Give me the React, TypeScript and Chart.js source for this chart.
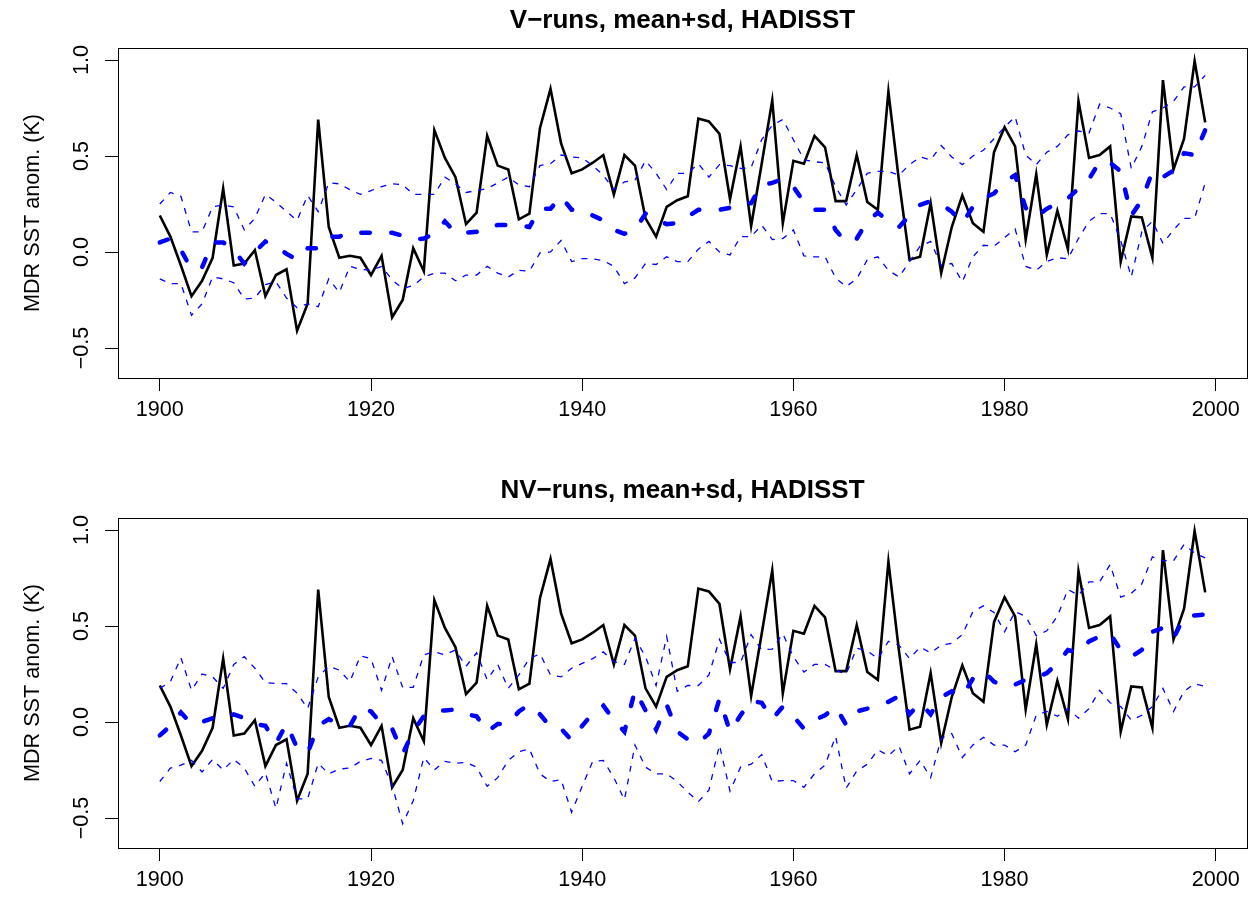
import React, { useEffect, useRef } from "react";
import { Chart, registerables } from "chart.js";

Chart.register(...registerables);

// ---------- data ----------
const years: number[] = Array.from({ length: 100 }, (_, i) => 1900 + i);

const obs: number[] = [
  0.19, 0.08, -0.07, -0.23, -0.15, -0.03, 0.33, -0.07, -0.06, 0.01,
  -0.23, -0.12, -0.09, -0.41, -0.27, 0.69, 0.13, -0.03, -0.02, -0.03,
  -0.12, -0.02, -0.34, -0.25, 0.02, -0.10, 0.635, 0.49, 0.39, 0.145,
  0.205, 0.605, 0.45, 0.43, 0.17, 0.20, 0.645, 0.85, 0.565, 0.41,
  0.43, 0.465, 0.505, 0.30, 0.505, 0.45, 0.175, 0.08, 0.235, 0.27,
  0.29, 0.695, 0.68, 0.615, 0.275, 0.55, 0.135, 0.46, 0.79, 0.15,
  0.475, 0.46, 0.605, 0.545, 0.265, 0.265, 0.505, 0.26, 0.22, 0.835,
  0.37, -0.04, -0.025, 0.255, -0.11, 0.13, 0.295, 0.15, 0.105, 0.52,
  0.65, 0.55, 0.065, 0.405, -0.015, 0.215, 0.015, 0.785, 0.49, 0.505,
  0.55, -0.05, 0.185, 0.18, -0.03, 0.895, 0.43, 0.59, 0.995, 0.675,
];

const vMean: number[] = [
  0.05, 0.07, 0.01, -0.09, -0.08, 0.05, 0.05, 0.01, -0.06, 0.0,
  0.055, 0.03, -0.01, -0.04, 0.02, 0.02, 0.08, 0.08, 0.105, 0.10,
  0.10, 0.10, 0.10, 0.085, 0.065, 0.07, 0.095, 0.16, 0.10, 0.10,
  0.105, 0.135, 0.14, 0.14, 0.14, 0.13, 0.225, 0.225, 0.29, 0.22,
  0.22, 0.19, 0.165, 0.115, 0.095, 0.115, 0.20, 0.17, 0.145, 0.15,
  0.185, 0.22, 0.22, 0.22, 0.23, 0.25, 0.255, 0.35, 0.36, 0.38,
  0.34, 0.26, 0.22, 0.22, 0.115, 0.05, 0.07, 0.16, 0.205, 0.16,
  0.13, 0.19, 0.245, 0.265, 0.25, 0.21, 0.15, 0.235, 0.28, 0.305,
  0.365, 0.40, 0.23, 0.185, 0.225, 0.255, 0.28, 0.33, 0.38, 0.47,
  0.465, 0.42, 0.19, 0.27, 0.42, 0.39, 0.425, 0.515, 0.505, 0.635,
];

const vUpper: number[] = [
  0.25, 0.31, 0.29, 0.105, 0.105, 0.235, 0.245, 0.235, 0.115, 0.175,
  0.30, 0.26, 0.21, 0.165, 0.295, 0.21, 0.36, 0.355, 0.325, 0.30,
  0.32, 0.34, 0.355, 0.35, 0.30, 0.30, 0.30, 0.39, 0.355, 0.31,
  0.32, 0.33, 0.36, 0.39, 0.35, 0.34, 0.45, 0.46, 0.505, 0.495,
  0.49, 0.45, 0.40, 0.325, 0.365, 0.375, 0.475, 0.41, 0.325, 0.41,
  0.41, 0.46, 0.39, 0.455, 0.45, 0.435, 0.44, 0.585, 0.66, 0.69,
  0.585, 0.48, 0.47, 0.465, 0.34, 0.245, 0.325, 0.41, 0.42, 0.42,
  0.40, 0.455, 0.495, 0.48, 0.555, 0.495, 0.455, 0.50, 0.53, 0.59,
  0.65, 0.705, 0.505, 0.455, 0.52, 0.55, 0.61, 0.63, 0.62, 0.77,
  0.75, 0.72, 0.435, 0.55, 0.73, 0.75, 0.785, 0.86, 0.86, 0.92,
];

const vLower: number[] = [
  -0.14, -0.165, -0.165, -0.33, -0.27, -0.13, -0.14, -0.16, -0.245, -0.24,
  -0.17, -0.155, -0.24, -0.29, -0.27, -0.285, -0.14, -0.21, -0.075, -0.09,
  -0.095, -0.075, -0.145, -0.19, -0.175, -0.13, -0.11, -0.11, -0.15, -0.12,
  -0.12, -0.075, -0.11, -0.13, -0.095, -0.10, -0.005, 0.0, 0.06, -0.05,
  -0.035, -0.035, -0.045, -0.075, -0.165, -0.135, -0.06, -0.065, -0.025, -0.05,
  -0.05, 0.015, 0.055, 0.0, -0.015, 0.08, 0.08, 0.14, 0.065, 0.07,
  0.115, -0.02, -0.025, -0.025, -0.135, -0.18, -0.14, -0.04, -0.025, -0.095,
  -0.13, -0.05, 0.03, 0.055, -0.07, -0.06, -0.155, -0.025, 0.035, 0.03,
  0.075, 0.12, -0.075, -0.095, -0.05, -0.03, -0.035, 0.07, 0.16, 0.20,
  0.20, 0.06, -0.13, 0.105, 0.16, 0.045, 0.115, 0.175, 0.175, 0.36,
];

const nvMean: number[] = [
  -0.07, -0.02, 0.05, -0.01, 0.0, 0.02, 0.02, 0.04, 0.02, -0.01,
  -0.02, -0.11, -0.01, -0.135, -0.16, -0.02, 0.015, -0.015, -0.02, 0.075,
  0.055, -0.01, -0.035, -0.165, -0.05, 0.03, 0.06, 0.06, 0.065, 0.04,
  0.03, -0.05, -0.01, -0.01, 0.055, 0.09, 0.04, -0.025, -0.035, -0.095,
  -0.02, 0.045, 0.085, 0.01, -0.05, 0.165, 0.06, -0.04, 0.09, -0.05,
  -0.09, -0.11, -0.06, 0.12, -0.05, 0.035, 0.11, 0.10, 0.015, 0.08,
  0.03, -0.035, 0.01, 0.035, 0.08, -0.015, 0.055, 0.07, 0.09, 0.105,
  0.135, 0.04, 0.10, 0.04, 0.13, 0.16, 0.135, 0.225, 0.265, 0.21,
  0.185, 0.195, 0.22, 0.23, 0.255, 0.305, 0.375, 0.36, 0.42, 0.445,
  0.46, 0.375, 0.34, 0.375, 0.47, 0.49, 0.435, 0.55, 0.555, 0.56,
];

const nvUpper: number[] = [
  0.175, 0.21, 0.335, 0.165, 0.25, 0.235, 0.175, 0.30, 0.34, 0.28,
  0.205, 0.20, 0.20, 0.15, 0.07, 0.235, 0.29, 0.27, 0.21, 0.345,
  0.33, 0.165, 0.34, 0.18, 0.18, 0.35, 0.365, 0.35, 0.375, 0.29,
  0.36, 0.22, 0.30, 0.175, 0.245, 0.33, 0.355, 0.245, 0.235, 0.28,
  0.305, 0.33, 0.365, 0.315, 0.30, 0.435, 0.34, 0.19, 0.445, 0.16,
  0.19, 0.19, 0.245, 0.43, 0.31, 0.31, 0.455, 0.375, 0.38, 0.46,
  0.34, 0.26, 0.30, 0.30, 0.27, 0.25, 0.385, 0.37, 0.33, 0.42,
  0.40, 0.33, 0.39, 0.36, 0.40, 0.41, 0.455, 0.575, 0.605, 0.57,
  0.47, 0.575, 0.55, 0.45, 0.475, 0.55, 0.69, 0.66, 0.73, 0.73,
  0.82, 0.65, 0.67, 0.72, 0.86, 0.84, 0.84, 0.925, 0.88, 0.855,
];

const nvLower: number[] = [
  -0.31, -0.24, -0.225, -0.20, -0.26, -0.195, -0.25, -0.195, -0.24, -0.335,
  -0.265, -0.45, -0.215, -0.40, -0.40, -0.215, -0.27, -0.245, -0.24, -0.205,
  -0.19, -0.20, -0.33, -0.53, -0.41, -0.185, -0.25, -0.205, -0.215, -0.21,
  -0.235, -0.335, -0.29, -0.20, -0.155, -0.14, -0.27, -0.31, -0.30, -0.47,
  -0.335, -0.205, -0.20, -0.29, -0.405, -0.12, -0.235, -0.27, -0.27, -0.31,
  -0.365, -0.415, -0.355, -0.12, -0.36, -0.235, -0.22, -0.17, -0.31, -0.305,
  -0.305, -0.34, -0.27, -0.225, -0.075, -0.345, -0.255, -0.22, -0.145, -0.175,
  -0.125, -0.27, -0.20, -0.29, -0.085, -0.06, -0.185, -0.12, -0.08, -0.12,
  -0.12, -0.155, -0.12, 0.035, 0.055, 0.03, 0.07, 0.02, 0.07, 0.165,
  0.10, 0.08, 0.01, 0.035, 0.08, 0.175, 0.055, 0.16, 0.20, 0.185,
];

const titles: string[] = [
  "V\u2212runs, mean+sd, HADISST",
  "NV\u2212runs, mean+sd, HADISST",
];
const yAxisLabel = "MDR SST anom. (K)";
const xTickStep = 20;
const yTickStep = 0.5;

// ---------- layout constants ----------
const FONT = '"Liberation Sans", Arial, Helvetica, sans-serif';
const W = 1256;
const AREA_TOP = 48;
const AREA_BOTTOM = 378;
const AREA_LEFT = 118;
const AREA_RIGHT = 1247;

const framePlugin = {
  id: "rframe",
  afterDraw(chart: any, _args: any, opts: any) {
    const { ctx, chartArea: a } = chart;
    ctx.save();
    ctx.strokeStyle = "#000";
    ctx.lineWidth = 1;
    ctx.strokeRect(
      Math.round(a.left) + 0.5,
      Math.round(a.top) + 0.5,
      Math.round(a.right - a.left),
      Math.round(a.bottom - a.top)
    );
    ctx.fillStyle = "#000";
    ctx.font = `bold 26px ${FONT}`;
    ctx.textAlign = "center";
    ctx.textBaseline = "alphabetic";
    ctx.fillText(opts.text, (a.left + a.right) / 2, opts.y);
    ctx.restore();
  },
};

const toPts = (vals: number[]) => years.map((yr, i) => ({ x: yr, y: vals[i] }));

function Panel(props: {
  title: string;
  mean: number[];
  upper: number[];
  lower: number[];
  height: number;
  top: number;
}) {
  const ref = useRef<HTMLCanvasElement | null>(null);
  useEffect(() => {
    if (!ref.current) return;
    const H = props.height;
    const chart = new Chart(ref.current, {
      type: "line",
      data: {
        datasets: [
          {
            data: toPts(props.mean),
            borderColor: "#0000ff",
            borderWidth: 4.5,
            borderDash: [8.5, 21.5],
            borderCapStyle: "round",
            pointRadius: 0,
            tension: 0,
          },
          {
            data: toPts(props.upper),
            borderColor: "#0000ff",
            borderWidth: 1.3,
            borderDash: [6, 7],
            pointRadius: 0,
            tension: 0,
          },
          {
            data: toPts(props.lower),
            borderColor: "#0000ff",
            borderWidth: 1.3,
            borderDash: [6, 7],
            pointRadius: 0,
            tension: 0,
          },
          {
            data: toPts(obs),
            borderColor: "#000000",
            borderWidth: 2.6,
            pointRadius: 0,
            tension: 0,
          },
        ],
      },
      options: {
        animation: false,
        responsive: false,
        devicePixelRatio: 1,
        events: [],
        layout: { padding: { top: AREA_TOP, right: W - AREA_RIGHT, left: 0, bottom: 0 } },
        plugins: {
          legend: { display: false },
          tooltip: { enabled: false },
          title: { display: false },
          rframe: { text: props.title, y: 27.5 },
        } as any,
        scales: {
          x: {
            type: "linear",
            min: 1896.04,
            max: 2002.96,
            border: { display: false },
            grid: {
              display: true,
              drawOnChartArea: false,
              drawTicks: true,
              tickLength: 13,
              color: "#000",
              lineWidth: 1,
            },
            ticks: {
              stepSize: xTickStep,
              includeBounds: false,
              autoSkip: false,
              maxRotation: 0,
              minRotation: 0,
              padding: 6,
              color: "#000",
              font: { family: FONT, size: 21.6 },
              callback: (v: any) => String(v),
            },
            afterFit: (s: any) => {
              s.height = H - AREA_BOTTOM;
            },
          },
          y: {
            type: "linear",
            min: -0.65625,
            max: 1.0625,
            border: { display: false },
            grid: {
              display: true,
              drawOnChartArea: false,
              drawTicks: true,
              tickLength: 13,
              color: "#000",
              lineWidth: 1,
            },
            ticks: {
              stepSize: yTickStep,
              includeBounds: false,
              autoSkip: false,
              minRotation: 90,
              maxRotation: 90,
              crossAlign: "center",
              padding: 2,
              color: "#000",
              font: { family: FONT, size: 21.6 },
              callback: (v: any) => Number(v).toFixed(1).replace("-", "\u2212"),
            },
            title: {
              display: true,
              text: yAxisLabel,
              color: "#000",
              font: { family: FONT, size: 21.6 },
              padding: { top: 20, bottom: 0 },
            },
            afterFit: (s: any) => {
              s.width = AREA_LEFT;
            },
          },
        },
      },
      plugins: [framePlugin as any],
    });
    return () => chart.destroy();
  }, []);
  return (
    <canvas
      ref={ref}
      width={W}
      height={props.height}
      style={{ position: "absolute", left: 0, top: props.top, width: W, height: props.height, display: "block" }}
    />
  );
}

export default function App() {
  return (
    <div style={{ position: "absolute", left: 0, top: 0, width: W, height: 905, background: "#fff", overflow: "hidden" }}>
      <Panel title={titles[0]} mean={vMean} upper={vUpper} lower={vLower} height={452} top={0} />
      <Panel title={titles[1]} mean={nvMean} upper={nvUpper} lower={nvLower} height={435} top={470} />
    </div>
  );
}
